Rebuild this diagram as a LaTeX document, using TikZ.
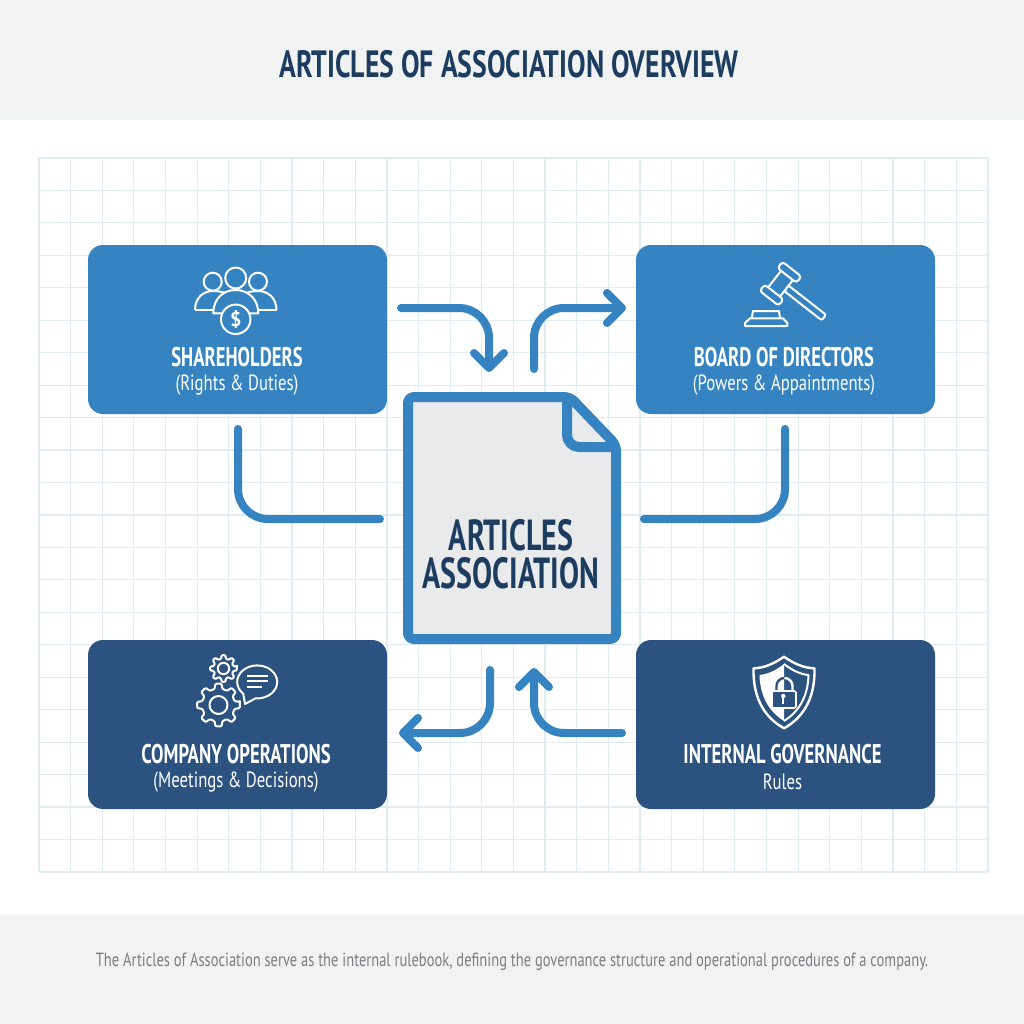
\documentclass[tikz,border=0pt]{standalone}
\usepackage{fontspec}
\usetikzlibrary{arrows.meta}
\setmainfont{PT Sans}
\newfontfamily\titlefont[FakeStretch=0.73]{PT Sans}
\newfontfamily\headfont[FakeStretch=0.69]{PT Sans}
\newfontfamily\subfont[FakeStretch=0.76]{PT Sans}
\definecolor{cbblue}{HTML}{3584c1}
\definecolor{cbnavy}{HTML}{2c5380}
\definecolor{cbink}{HTML}{1d3d60}
\definecolor{cbband}{HTML}{f1f2f2}
\definecolor{cbgrid}{HTML}{e0ecf4}
\definecolor{cbpaper}{HTML}{e9eaec}
\definecolor{cbnote}{HTML}{7b7d80}
\tikzset{
  bluebox/.style={fill=cbblue, rounded corners=15, minimum width=299, minimum height=169, inner sep=0},
  navybox/.style={bluebox, fill=cbnavy},
  headtext/.style={white, font=\headfont\fontsize{27}{27}\selectfont\bfseries, inner sep=0},
  subtext/.style={white, font=\subfont\fontsize{22}{22}\selectfont, inner sep=0},
  doctext/.style={cbink, font=\headfont\fontsize{43.5}{43.5}\selectfont\bfseries, inner sep=0, text height=30, text depth=0},
  flow/.style={cbblue, line width=8, line cap=round, rounded corners=30},
  flowtip/.style={flow, -{Straight Barb[round, length=15, width=30]}},
  iconline/.style={white, line width=2, line join=round},
  gridline/.style={cbgrid, line width=1.2},
}
% one gear, teeth from the centre
\newcommand{\gearicon}[5]{
  \draw[iconline, fill=cbnavy, rounded corners=1, shift={(#1,#2)}]
    (-8:#3) \foreach \a in {0,45,...,315} {
      -- (\a-8:#3) -- (\a+8:#3) -- (\a+14:#4) -- (\a+31:#4)
    } -- cycle;
  \draw[iconline] (#1,#2) circle[radius=#5];
}
\begin{document}
\begin{tikzpicture}[x=1pt, y=-1pt]
\useasboundingbox (0,0) rectangle (1024,1024);
\fill[white] (0,0) rectangle (1024,1024);
\fill[cbband] (0,0) rectangle (1024,120);
\fill[cbband] (0,915) rectangle (1024,1024);

\foreach \i in {0,...,30} {
  \draw[gridline] ({39+\i*31.63},158) -- ({39+\i*31.63},872);
}
\foreach \j in {0,...,22} {
  \draw[gridline] (39,{158+\j*32.45}) -- (988,{158+\j*32.45});
}

\node[cbink, font=\titlefont\fontsize{38}{38}\selectfont\bfseries, inner sep=0] (title) at (509,64) {ARTICLES OF ASSOCIATION OVERVIEW};
\node[cbnote, font=\subfont\fontsize{19.1}{19.1}\selectfont, inner sep=0] (note) at (512,962) {The Articles of Association serve as the internal rulebook, defining the governance structure and operational procedures of a company.};

\node[bluebox] (share) at (237.5,329.5) {};
\node[bluebox] (board) at (785.5,329.5) {};
\node[navybox] (oper) at (237.5,724.5) {};
\node[navybox] (gov) at (785.5,724.5) {};

\node[headtext] (sharehead) at (237,357.5) {SHAREHOLDERS};
\node[subtext] (sharesub) at (237,385) {(Rights \& Duties)};
\node[headtext] (boardhead) at (784,357.5) {BOARD OF DIRECTORS};
\node[subtext] (boardsub) at (784,385) {(Powers \& Appaintments)};
\node[headtext] (operhead) at (236,754) {COMPANY OPERATIONS};
\node[subtext] (opersub) at (236,782) {(Meetings \& Decisions)};
\node[headtext] (govhead) at (782.5,754) {INTERNAL GOVERNANCE};
\node[subtext] (govsub) at (782.5,782) {Rules};

% document in the middle
\draw[cbblue, fill=cbpaper, line width=10, line join=round, rounded corners=6]
  (408,397) -- (570,397) -- (616,445) -- (616,639) -- (408,639) -- cycle;
\draw[cbblue, line width=10, line join=round] (567,397) -- (567,435) arc[start angle=180, end angle=90, radius=12] -- (616,447);
\node[doctext] (docone) at (511,535) {ARTICLES};
\node[doctext] (doctwo) at (511,573) {ASSOCIATION};

% free ends of the connectors
\coordinate (ashare) at (401,308);
\coordinate (adoc) at (489,372);
\coordinate (bdoc) at (534,369);
\coordinate (bboard) at (626,308);
\coordinate (cshare) at (238,429);
\coordinate (cdoc) at (380,519);
\coordinate (dboard) at (785,429);
\coordinate (ddoc) at (644,519);
\coordinate (edoc) at (490,670);
\coordinate (eoper) at (399,733);
\coordinate (fgov) at (622,733);
\coordinate (fdoc) at (534,668);

\draw[flowtip] (ashare) -| (adoc);
\draw[flowtip] (bdoc) |- (bboard);
\draw[flow] (cshare) |- (cdoc);
\draw[flow] (dboard) |- (ddoc);
\draw[flowtip] (edoc) |- (eoper);
\draw[flowtip] (fgov) -| (fdoc);

% shareholders icon
\draw[iconline] (212.7,281.7) circle[radius=9];
\draw[iconline] (258,281.7) circle[radius=9];
\draw[iconline] (195,310) .. controls (195,298) and (203,291) .. (213,291) .. controls (224,291) and (232,295) .. (236,300);
\draw[iconline] (276.5,310) .. controls (276.5,298) and (268,291) .. (258,291) .. controls (247,291) and (240,295) .. (236,300);
\draw[iconline] (195,310) -- (214,310) (276.5,310) -- (258,310);
\draw[iconline, fill=cbblue] (213.3,313.3) .. controls (213.3,299) and (223,290) .. (235.7,290) .. controls (248,290) and (258.3,299) .. (258.3,313.3) -- cycle;
\draw[iconline, fill=cbblue] (235.7,278) circle[radius=10.5];
\draw[iconline, fill=cbblue] (235.7,319.3) circle[radius=14.7];
\node[white, font=\bfseries\fontsize{20}{20}\selectfont, inner sep=0] (coin) at (235.7,319.3) {\$};

% gavel icon
\begin{scope}[shift={(780.5,283.7)}, rotate=-38]
  \draw[iconline, rounded corners=2] (7.5,-3.5) rectangle (55,3.5);
  \draw[iconline, fill=cbblue] (-7.5,-11) rectangle (7.5,11);
  \draw[iconline, fill=cbblue, rounded corners=3] (-12,-18.5) rectangle (12,-10.5);
  \draw[iconline, fill=cbblue, rounded corners=3] (-12,10.5) rectangle (12,18.5);
\end{scope}
\draw[iconline] (751.7,318.3) -- (753,311) -- (779,311) -- (780,318.3);
\draw[iconline] (745,326) -- (745,323) -- (750,318.3) -- (783,318.3) -- (787.3,323) -- (787.3,326) -- cycle;

% gears and speech bubble
\gearicon{223.5}{668.5}{13.5}{10}{5.7}
\gearicon{218.5}{705}{21.5}{16.5}{9}
\draw[iconline, fill=cbnavy] (243.3,693.8) arc[start angle=134, end angle=455, x radius=20, y radius=16.5] -- (245,704) -- cycle;
\draw[iconline] (247,675.5) -- (268,675.5) (247,681) -- (268,681) (247,686.5) -- (261.7,686.5);

% shield with lock
\draw[iconline, line width=2.4] (784,656.7) .. controls (772,665) and (763,668) .. (753.5,668.3) .. controls (753,695) and (762,716) .. (784,728.3) .. controls (806,716) and (815,695) .. (814.5,668.3) .. controls (805,668) and (796,665) .. (784,656.7) -- cycle;
\fill[white] (784,664) .. controls (776,670) and (769,674) .. (759.5,675) .. controls (760,695) and (768,711) .. (784,721) -- cycle;
\draw[iconline] (784,664) .. controls (792,670) and (799,674) .. (808.5,675) .. controls (808,695) and (800,711) .. (784,721);
\draw[cbnavy, line width=2.4] (776.5,691) -- (776.5,686) arc[start angle=180, end angle=270, radius=8];
\draw[white, line width=2.4] (784.5,678) arc[start angle=-90, end angle=0, radius=8] -- (792.5,691);
\draw[white, line width=1.6, fill=cbnavy, rounded corners=1.5] (772,691) rectangle (796,708);
\fill[white] (783.3,696) circle[radius=2.2];
\fill[white] (782.4,697) rectangle (784.2,703.5);
\end{tikzpicture}
\end{document}
